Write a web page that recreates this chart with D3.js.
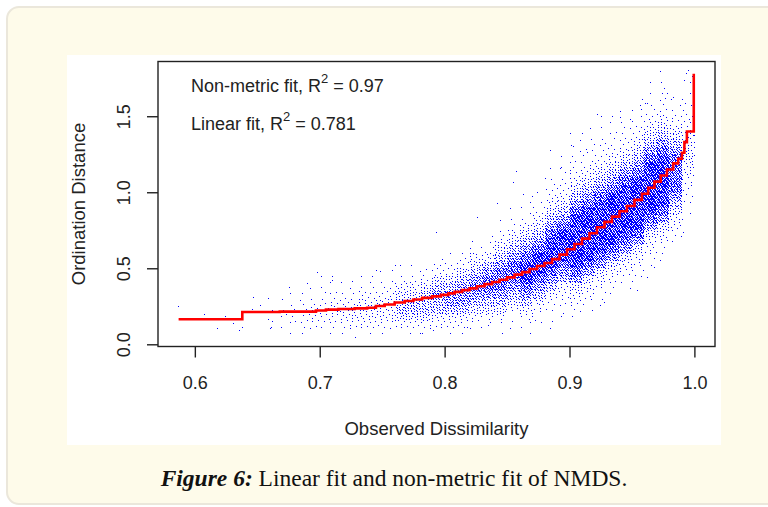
<!DOCTYPE html>
<html>
<head>
<meta charset="utf-8">
<script src="https://cdn.jsdelivr.net/npm/d3@7"></script>
<style>
  body { margin: 0; background: #fff; }
  svg { display: block; }
  .rtext { font-family: "Liberation Sans", Arial, sans-serif; fill: #222; }
  .caption { font-family: "Liberation Serif", serif; fill: #111; }
</style>
</head>
<body>
<div id="chart"></div>
<script>
// ---- data ----
const xTicks = [0.6, 0.7, 0.8, 0.9, 1.0];
const yTicks = [0.0, 0.5, 1.0, 1.5];

// non-metric (monotone step) fit
const fitX = [0.587, 0.638, 0.668, 0.697, 0.705, 0.715, 0.728, 0.738, 0.745, 0.752, 0.76, 0.768,
  0.775, 0.782, 0.79, 0.797, 0.803, 0.808, 0.814, 0.82, 0.826, 0.832, 0.838, 0.844, 0.85, 0.856,
  0.862, 0.868, 0.874, 0.88, 0.886, 0.892, 0.898, 0.904, 0.91, 0.916, 0.922, 0.928, 0.934, 0.94,
  0.946, 0.952, 0.958, 0.963, 0.968, 0.973, 0.978, 0.983, 0.987, 0.99, 0.992, 0.994, 0.9995];
const fitY = [0.165, 0.212, 0.215, 0.222, 0.228, 0.232, 0.236, 0.24, 0.252, 0.262, 0.275, 0.285,
  0.295, 0.305, 0.315, 0.325, 0.335, 0.345, 0.356, 0.368, 0.382, 0.396, 0.41, 0.425, 0.44, 0.458,
  0.475, 0.495, 0.515, 0.535, 0.56, 0.59, 0.625, 0.66, 0.695, 0.73, 0.77, 0.805, 0.84, 0.875,
  0.91, 0.95, 0.99, 1.03, 1.07, 1.11, 1.15, 1.19, 1.22, 1.26, 1.33, 1.40, 1.78];

// point density of the cloud: one column per 0.01 of dissimilarity,
// one digit (0-9) per 0.05 of ordination distance, starting at 0
const cellX = [0.66, 0.67, 0.68, 0.69, 0.70, 0.71, 0.72, 0.73, 0.74, 0.75, 0.76, 0.77, 0.78, 0.79,
  0.80, 0.81, 0.82, 0.83, 0.84, 0.85, 0.86, 0.87, 0.88, 0.89, 0.90, 0.91, 0.92, 0.93, 0.94, 0.95,
  0.96, 0.97, 0.98, 0.99];
const cellLevels = [
  "00111",
  "0112211",
  "01222211",
  "01233211",
  "012333211",
  "012343211",
  "013443211",
  "013444321",
  "0134443211",
  "0124443211",
  "01356554211",
  "01356654211",
  "01356665321",
  "013466765321",
  "013467765321",
  "0134677765321",
  "00135678765411",
  "001356788764211",
  "01135678887654211",
  "001135678887654211",
  "0113467899987654211",
  "00113467899987654211",
  "001123467899998765432211",
  "0001123467899998765432211",
  "0001234578999999987654322111",
  "00001234578999999987654322111",
  "000001234578999999987654322111",
  "0000001234578999999987654322111",
  "00000001234578999999987654322111",
  "000000001234578999999987654322111",
  "00000000001234578999999987654322111",
  "000000000001234578999999987654322111",
  "000000000000012345678888876543211",
  "000000000000000011223344554433221111"
];
const cellW = 0.01;
const cellH = 0.05;

// scattered points away from the main cloud
const sparsePoints = [
  [0.5866, 0.252], [0.5928, 0.175], [0.607, 0.197], [0.6174, 0.109], [0.624, 0.186], [0.6307, 0.138],
  [0.6353, 0.094], [0.6374, 0.116], [0.6462, 0.309], [0.646, 0.23], [0.6521, 0.258], [0.6587, 0.302],
  [0.6587, 0.169], [0.6607, 0.112], [0.6756, 0.379], [0.6895, 0.40], [0.6975, 0.478], [0.71, 0.42],
  [0.728, 0.05], [0.745, 0.49], [0.76, 0.52], [0.78, 0.072], [0.791, 0.094], [0.793, 0.739],
  [0.8177, 0.116], [0.826, 0.84], [0.835, 0.127], [0.842, 0.928], [0.855, 1.07], [0.857, 1.14],
  [0.863, 0.987], [0.8724, 0.16], [0.874, 1.004], [0.8845, 1.28], [0.892, 1.162], [0.895, 0.204],
  [0.903, 1.305], [0.914, 1.267], [0.9224, 1.515], [0.9277, 0.28], [0.9325, 1.392], [0.9405, 1.497],
  [0.9486, 1.482], [0.954, 0.357], [0.957, 1.546], [0.962, 1.585], [0.962, 0.445], [0.968, 0.51],
  [0.9753, 1.688], [0.978, 1.651], [0.983, 1.629], [0.991, 0.741], [0.9913, 1.739], [0.9934, 1.783],
  [0.995, 1.805], [0.9993, 1.377], [0.9998, 1.333], [0.9998, 1.245], [0.9996, 1.42], [0.9995, 1.30]
];

const fitLabels = [
  { name: "Non-metric fit, R", r2: "0.97" },
  { name: "Linear fit, R", r2: "0.781" }
];
const xTitle = "Observed Dissimilarity";
const yTitle = "Ordination Distance";
const captionLead = "Figure 6:";
const captionText = " Linear fit and non-metric fit of NMDS.";

(function() {
  const W = 768, H = 507;
  const box = { left: 158, right: 715, top: 61.5, bottom: 346.5 };

  const svg = d3.select("#chart")
    .append("svg")
      .attr("width", W)
      .attr("height", H);

  // page card + white figure panel
  svg.append("rect")
    .attr("x", 7).attr("y", 7)
    .attr("width", 1000).attr("height", 497)
    .attr("rx", 12)
    .attr("fill", "#fefbea")
    .attr("stroke", "#ebe7db")
    .attr("stroke-width", 2);

  svg.append("rect")
    .attr("x", 67).attr("y", 55)
    .attr("width", 654).attr("height", 390)
    .attr("fill", "#ffffff");

  const x = d3.scaleLinear()
    .domain([0.5705, 1.0165])
    .range([box.left, box.right]);

  const y = d3.scaleLinear()
    .domain([-0.0145, 1.86])
    .range([box.bottom, box.top]);

  // stipple textures for the density levels (nested, so levels blend)
  const tile = 40;
  const levelCounts = [0, 16, 35, 65, 115, 200, 340, 560, 850, 1250];
  const defs = svg.append("defs");
  const frac = v => v - Math.floor(v);

  levelCounts.forEach((n, lvl) => {
    if (lvl === 0) return;
    const pat = defs.append("pattern")
      .attr("id", "dots" + lvl)
      .attr("patternUnits", "userSpaceOnUse")
      .attr("width", tile)
      .attr("height", tile);
    pat.selectAll("rect")
      .data(d3.range(n))
      .enter().append("rect")
        .attr("x", i => Math.floor(tile * frac(0.5 + i * 0.7548776662)))
        .attr("y", i => Math.floor(tile * frac(0.5 + i * 0.5698402910)))
        .attr("width", 1)
        .attr("height", 1)
        .attr("fill", "#0000ff");
  });

  defs.append("clipPath")
    .attr("id", "plot-clip")
    .append("rect")
      .attr("x", box.left).attr("y", box.top)
      .attr("width", box.right - box.left)
      .attr("height", box.bottom - box.top);

  const cells = [];
  cellLevels.forEach((col, i) => {
    col.split("").forEach((ch, r) => {
      const lvl = +ch;
      if (lvl > 0) cells.push({ x0: cellX[i], y0: r * cellH, lvl: lvl });
    });
  });

  const plot = svg.append("g").attr("clip-path", "url(#plot-clip)");

  plot.append("g")
    .attr("class", "cloud")
    .attr("shape-rendering", "crispEdges")
    .selectAll("rect")
    .data(cells)
    .enter().append("rect")
      .attr("x", d => Math.round(x(d.x0)))
      .attr("y", d => Math.round(y(d.y0 + cellH)))
      .attr("width", d => Math.round(x(d.x0 + cellW)) - Math.round(x(d.x0)))
      .attr("height", d => Math.round(y(d.y0)) - Math.round(y(d.y0 + cellH)))
      .attr("fill", d => `url(#dots${d.lvl})`);

  plot.append("g")
    .attr("class", "sparse")
    .selectAll("rect")
    .data(sparsePoints)
    .enter().append("rect")
      .attr("x", d => Math.round(x(d[0])))
      .attr("y", d => Math.round(y(d[1])))
      .attr("width", 1)
      .attr("height", 1)
      .attr("fill", "#0000ff");

  const line = d3.line()
    .x((d, i) => x(fitX[i]))
    .y(d => y(d))
    .curve(d3.curveStepAfter);

  plot.append("path")
    .datum(fitY)
    .attr("d", line)
    .attr("fill", "none")
    .attr("stroke", "#ff0000")
    .attr("stroke-width", 2.6);

  // frame
  svg.append("rect")
    .attr("x", box.left).attr("y", box.top)
    .attr("width", box.right - box.left)
    .attr("height", box.bottom - box.top)
    .attr("fill", "none")
    .attr("stroke", "#222")
    .attr("stroke-width", 1.4);

  // axes
  const xAxis = svg.append("g")
    .attr("class", "rtext")
    .attr("transform", `translate(0, ${box.bottom})`)
    .call(d3.axisBottom(x)
      .tickValues(xTicks)
      .tickSize(11)
      .tickSizeOuter(0)
      .tickPadding(19)
      .tickFormat(d3.format(".1f")));
  xAxis.select(".domain").remove();
  xAxis.selectAll("line").attr("stroke", "#222").attr("stroke-width", 1.4);
  xAxis.selectAll("text")
    .attr("fill", "#222")
    .style("font-size", "18px")
    .style("font-family", "'Liberation Sans', Arial, sans-serif");

  const yAxis = svg.append("g")
    .attr("class", "rtext")
    .attr("transform", `translate(${box.left}, 0)`)
    .call(d3.axisLeft(y)
      .tickValues(yTicks)
      .tickSize(11)
      .tickSizeOuter(0)
      .tickFormat(d3.format(".1f")));
  yAxis.select(".domain").remove();
  yAxis.selectAll("line").attr("stroke", "#222").attr("stroke-width", 1.4);
  yAxis.selectAll("text")
    .attr("x", 0)
    .attr("y", 0)
    .attr("dy", 0)
    .attr("transform", "translate(-28.5, 0) rotate(-90)")
    .attr("text-anchor", "middle")
    .attr("fill", "#222")
    .style("font-size", "18px")
    .style("font-family", "'Liberation Sans', Arial, sans-serif");

  svg.append("text")
    .attr("class", "rtext")
    .attr("x", (box.left + box.right) / 2)
    .attr("y", 435)
    .attr("text-anchor", "middle")
    .style("font-size", "18.5px")
    .text(xTitle);

  svg.append("text")
    .attr("class", "rtext")
    .attr("transform", `translate(84.5, ${(box.top + box.bottom) / 2}) rotate(-90)`)
    .attr("text-anchor", "middle")
    .style("font-size", "18.5px")
    .text(yTitle);

  // R^2 annotations
  fitLabels.forEach((d, i) => {
    const t = svg.append("text")
      .attr("class", "rtext")
      .attr("x", 191)
      .attr("y", 92 + i * 38)
      .style("font-size", "18px");
    t.append("tspan").text(d.name);
    t.append("tspan")
      .attr("dy", -9)
      .style("font-size", "13px")
      .text("2");
    t.append("tspan")
      .attr("dy", 9)
      .text(" = " + d.r2);
  });

  // caption, centred under the figure panel
  const cap = svg.append("text")
    .attr("class", "caption")
    .attr("x", 394)
    .attr("y", 486)
    .attr("text-anchor", "middle")
    .style("font-size", "23.5px");
  cap.append("tspan")
    .style("font-weight", "bold")
    .style("font-style", "italic")
    .text(captionLead);
  cap.append("tspan").text(captionText);
})();
</script>
</body>
</html>
